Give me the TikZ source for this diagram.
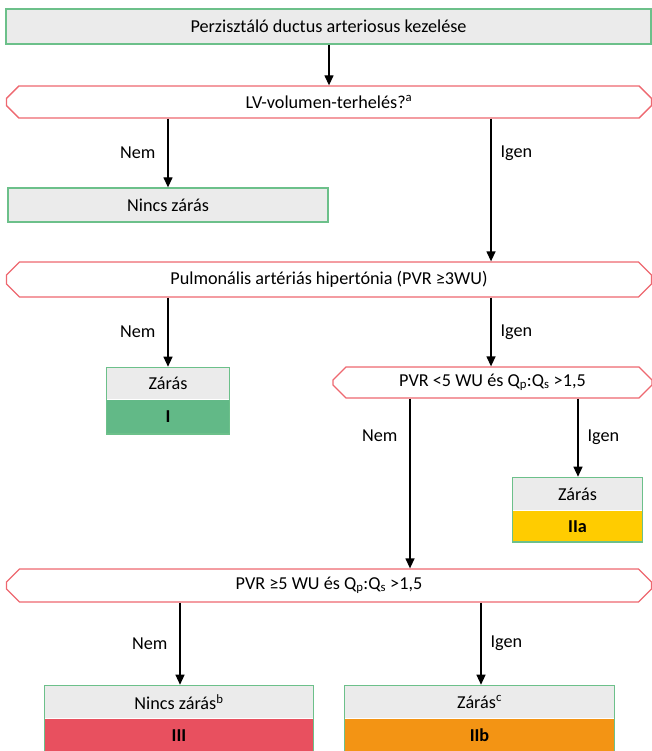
\documentclass[tikz,border=0pt]{standalone}
\usepackage{fontspec}
\setmainfont{Carlito}
\usepackage{xcolor}
\usetikzlibrary{positioning, arrows.meta, shapes.misc, fit}
\definecolor{boxgray}{HTML}{EBEBEB}
\definecolor{boxgreen}{HTML}{6CC08A}
\definecolor{askred}{HTML}{EE6870}
\definecolor{classI}{HTML}{62B987}
\definecolor{classIIa}{HTML}{FFCC00}
\definecolor{classIIb}{HTML}{F39414}
\definecolor{classIII}{HTML}{E8505F}

\tikzset{
  every node/.style={font=\fontsize{18.2}{21}\selectfont, inner sep=0pt},
  graybox/.style={draw=boxgreen, fill=boxgray, line width=1.3pt},
  askbox/.style={chamfered rectangle, chamfered rectangle xsep=7pt,
    chamfered rectangle ysep=6pt, draw=askred, fill=white, line width=1.3pt,
    minimum width=645pt},
  classbox/.style={fill=#1, font=\fontsize{18.2}{21}\selectfont\bfseries},
  frame/.style={draw=boxgreen, line width=1.3pt, inner sep=0pt},
  arr/.style={line width=1.3pt, -{Triangle[length=10pt, width=9pt]}},
  lbl/.style={fill=none}
}

\begin{document}
\begin{tikzpicture}[x=1pt, y=-1pt]
  \useasboundingbox (0,0) rectangle (652,751);

  % start and first question
  \node[graybox, minimum width=645pt, minimum height=35pt] (start) at (328.5,26.5)
    {Perzisztáló ductus arteriosus kezelése};
  \node[askbox, minimum height=32pt] (lvload) at (329,102)
    {LV-volumen-terhelés?\textsuperscript{a}};
  \node[graybox, minimum width=320pt, minimum height=34pt] (noclose) at (168,205)
    {Nincs zárás};

  % pulmonary hypertension
  \node[askbox, minimum height=35pt] (pah) at (329,279.5)
    {Pulmonális artériás hipertónia (PVR ≥3WU)};

  % class I
  \node[graybox, draw=none, minimum width=122pt, minimum height=31pt] (closeI) at (168,383.5) {Zárás};
  \node[classbox=classI, minimum width=122pt, minimum height=34pt, below=0pt of closeI] (clsI) {I};
  \node[frame, fit=(closeI)(clsI)] (frameI) {};

  % PVR < 5
  \node[askbox, minimum width=319pt, minimum height=31pt] (pvrlow) at (492.5,382.5)
    {PVR <5 WU és Q\textsubscript{p}:Q\textsubscript{s} >1,5};

  % class IIa
  \node[graybox, draw=none, minimum width=129pt, minimum height=32pt] (closeIIa) at (577.5,494) {Zárás};
  \node[classbox=classIIa, minimum width=129pt, minimum height=31pt, below=0pt of closeIIa] (clsIIa) {IIa};
  \node[frame, fit=(closeIIa)(clsIIa)] (frameIIa) {};

  % PVR >= 5
  \node[askbox, minimum height=33pt] (pvrhigh) at (329,585.5)
    {PVR ≥5 WU és Q\textsubscript{p}:Q\textsubscript{s} >1,5};

  % class III
  \node[graybox, draw=none, minimum width=268pt, minimum height=32pt] (closeIII) at (179,702)
    {Nincs zárás\textsuperscript{b}};
  \node[classbox=classIII, minimum width=268pt, minimum height=33pt, below=0pt of closeIII] (clsIII) {III};
  \node[frame, fit=(closeIII)(clsIII)] (frameIII) {};

  % class IIb
  \node[graybox, draw=none, minimum width=269pt, minimum height=32pt] (closeIIb) at (479.5,702)
    {Zárás\textsuperscript{c}};
  \node[classbox=classIIb, minimum width=269pt, minimum height=33pt, below=0pt of closeIIb] (clsIIb) {IIb};
  \node[frame, fit=(closeIIb)(clsIIb)] (frameIIb) {};

  % columns of the arrows
  \coordinate (colA) at (168,0);
  \coordinate (colB) at (491,0);
  \coordinate (colC) at (410,0);
  \coordinate (colD) at (578,0);
  \coordinate (colE) at (180,0);
  \coordinate (colF) at (481,0);

  \draw[arr] (start.south -| lvload) -- (lvload.north);
  \draw[arr] (lvload.south -| colA) -- node[lbl, left=12pt] {Nem} (noclose.north -| colA);
  \draw[arr] (lvload.south -| colB) -- node[lbl, right=9pt, pos=0.24] {Igen} (pah.north -| colB);
  \draw[arr] (pah.south -| colA) -- node[lbl, left=12pt] {Nem} (frameI.north -| colA);
  \draw[arr] (pah.south -| colB) -- node[lbl, right=9pt] {Igen} (pvrlow.north -| colB);
  \draw[arr] (pvrlow.south -| colC) -- node[lbl, left=12pt, pos=0.22] {Nem} (pvrhigh.north -| colC);
  \draw[arr] (pvrlow.south -| colD) -- node[lbl, right=9pt] {Igen} (frameIIa.north -| colD);
  \draw[arr] (pvrhigh.south -| colE) -- node[lbl, left=12pt] {Nem} (frameIII.north -| colE);
  \draw[arr] (pvrhigh.south -| colF) -- node[lbl, right=9pt] {Igen} (frameIIb.north -| colF);
\end{tikzpicture}
\end{document}
